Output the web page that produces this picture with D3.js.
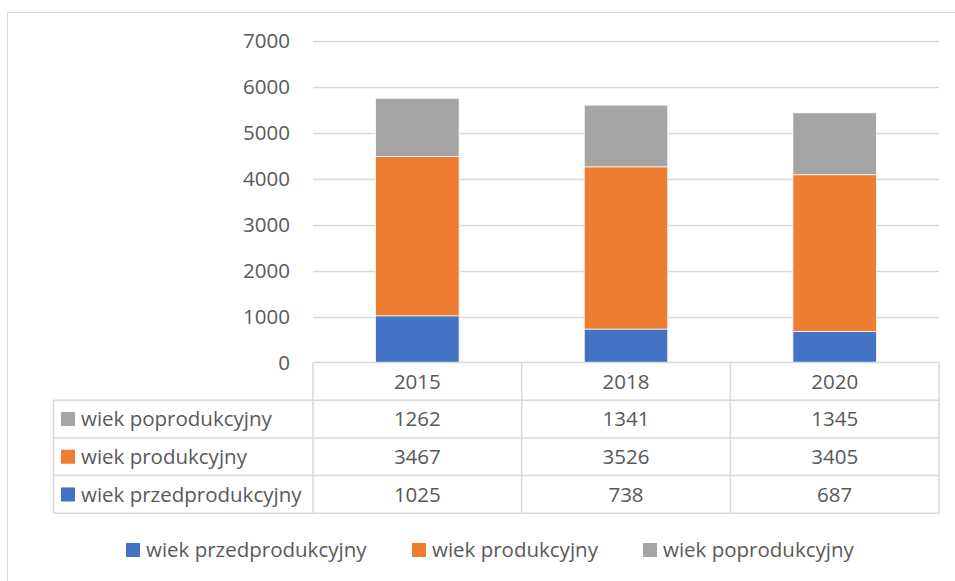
<!DOCTYPE html>
<html>
<head>
<meta charset="utf-8">
<script src="https://cdn.jsdelivr.net/npm/d3@7"></script>
<style>
  body { margin: 0; background: #fff; }
  svg { display: block; font-family: "Open Sans", sans-serif; }
</style>
</head>
<body>
<div id="chart"></div>
<script>
const years = ["2015", "2018", "2020"];
const seriesNames = ["wiek przedprodukcyjny", "wiek produkcyjny", "wiek poprodukcyjny"];
const przedprodukcyjny = [1025, 738, 687];
const produkcyjny = [3467, 3526, 3405];
const poprodukcyjny = [1262, 1341, 1345];
const yTicks = [0, 1000, 2000, 3000, 4000, 5000, 6000, 7000];
const colors = ["#4472C4", "#ED7D31", "#A5A5A5"];

const width = 955, height = 581;
const textColor = "#595959";
const gridColor = "#D9D9D9";
const fs = 20.5;

const rows = years.map((y, i) => ({
  year: y,
  [seriesNames[0]]: przedprodukcyjny[i],
  [seriesNames[1]]: produkcyjny[i],
  [seriesNames[2]]: poprodukcyjny[i]
}));

const svg = d3.select("#chart").append("svg")
  .attr("width", width)
  .attr("height", height);

// outer chart border
svg.append("rect")
  .attr("x", 7.5).attr("y", 12.5)
  .attr("width", 1000).attr("height", 1000)
  .attr("fill", "none").attr("stroke", gridColor);

const x = d3.scaleBand().domain(years).range([313, 939]);
const y = d3.scaleLinear().domain([0, 7000]).range([363, 41]);

// gridlines
svg.append("g").selectAll("line")
  .data(yTicks.filter(t => t > 0))
  .join("line")
  .attr("x1", 313).attr("x2", 939)
  .attr("y1", d => Math.round(y(d)) + 0.5)
  .attr("y2", d => Math.round(y(d)) + 0.5)
  .attr("stroke", gridColor).attr("stroke-width", 1.5);

// y labels
svg.append("g").selectAll("text")
  .data(yTicks)
  .join("text")
  .attr("x", 290)
  .attr("y", d => y(d))
  .attr("dy", "0.36em")
  .attr("text-anchor", "end")
  .attr("fill", textColor)
  .attr("font-size", fs)
  .text(d => d);

// stacked bars
const stack = d3.stack().keys(seriesNames)(rows);
const barW = x.bandwidth() * 0.4;
svg.append("g").selectAll("g")
  .data(stack)
  .join("g")
  .attr("fill", (d, i) => colors[i])
  .selectAll("rect")
  .data(d => d)
  .join("rect")
  .attr("x", d => x(d.data.year) + (x.bandwidth() - barW) / 2)
  .attr("width", barW)
  .attr("y", d => y(d[1]))
  .attr("height", d => y(d[0]) - y(d[1]))
  .attr("stroke", "#fff").attr("stroke-width", 0.7);

// data table
const tableTop = 362.5, rowH = 37.7, labelLeft = 53.5;
const tbl = svg.append("g")
  .attr("stroke", gridColor).attr("stroke-width", 1.5).attr("fill", "none");
const tableRows = [seriesNames[2], seriesNames[1], seriesNames[0]];
const tableVals = [poprodukcyjny, produkcyjny, przedprodukcyjny];
const tableColors = [colors[2], colors[1], colors[0]];
const bottom = tableTop + rowH * 4;

// horizontal lines
tbl.append("line").attr("x1", 313).attr("x2", 939).attr("y1", tableTop).attr("y2", tableTop);
d3.range(1, 5).forEach(k => {
  tbl.append("line")
    .attr("x1", labelLeft).attr("x2", 939)
    .attr("y1", tableTop + rowH * k).attr("y2", tableTop + rowH * k);
});
// vertical lines
tbl.append("line").attr("x1", labelLeft).attr("x2", labelLeft)
  .attr("y1", tableTop + rowH).attr("y2", bottom);
[313, ...years.map(d => x(d) + x.bandwidth())].forEach(xx => {
  tbl.append("line").attr("x1", xx).attr("x2", xx).attr("y1", tableTop).attr("y2", bottom);
});

// header years
svg.append("g").selectAll("text")
  .data(years)
  .join("text")
  .attr("x", d => x(d) + x.bandwidth() / 2)
  .attr("y", tableTop + rowH / 2)
  .attr("dy", "0.36em")
  .attr("text-anchor", "middle")
  .attr("fill", textColor).attr("font-size", fs)
  .text(d => d);

tableRows.forEach((name, r) => {
  const cy = tableTop + rowH * (r + 1.5);
  svg.append("rect")
    .attr("x", 61).attr("y", cy - 7).attr("width", 14).attr("height", 14)
    .attr("fill", tableColors[r]);
  svg.append("text")
    .attr("x", 81).attr("y", cy).attr("dy", "0.36em")
    .attr("fill", textColor).attr("font-size", fs)
    .text(name);
  svg.append("g").selectAll("text")
    .data(tableVals[r])
    .join("text")
    .attr("x", (d, i) => x(years[i]) + x.bandwidth() / 2)
    .attr("y", cy).attr("dy", "0.36em")
    .attr("text-anchor", "middle")
    .attr("fill", textColor).attr("font-size", fs)
    .text(d => d);
});

// legend
const legendX = [126, 412, 643];
const legend = svg.append("g").selectAll("g")
  .data(seriesNames)
  .join("g")
  .attr("transform", (d, i) => `translate(${legendX[i]},550)`);
legend.append("rect")
  .attr("x", 0).attr("y", -7).attr("width", 14).attr("height", 14)
  .attr("fill", (d, i) => colors[i]);
legend.append("text")
  .attr("x", 20).attr("dy", "0.36em")
  .attr("fill", textColor).attr("font-size", fs)
  .text(d => d);
</script>
</body>
</html>
